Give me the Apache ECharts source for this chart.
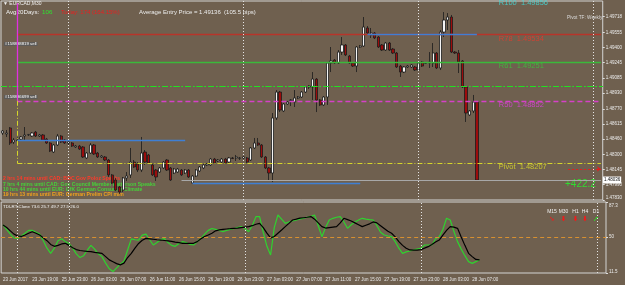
<!DOCTYPE html>
<html><head><meta charset="utf-8">
<script src="https://cdn.jsdelivr.net/npm/echarts@6/dist/echarts.min.js"></script>
<style>html,body{margin:0;padding:0;background:#6f604f}#c{width:625px;height:285px}</style>
</head><body><div id="c"></div>
<script>
// EURCAD M30 candles: [open, close, low, high]
const candles = [
[1.48520,1.48541,1.48500,1.48551],[1.48510,1.48520,1.48479,1.48551],[1.48572,1.48417,1.48397,1.48582],[1.48427,1.48448,1.48407,1.48469],
[1.48438,1.48448,1.48397,1.48479],[1.48458,1.48479,1.48448,1.48489],[1.48489,1.48500,1.48448,1.48582],[1.48500,1.48505,1.48489,1.48510],
[1.48489,1.48520,1.48479,1.48530],[1.48530,1.48489,1.48479,1.48541],[1.48489,1.48500,1.48479,1.48510],[1.48500,1.48448,1.48438,1.48510],
[1.48458,1.48417,1.48407,1.48469],[1.48417,1.48335,1.48324,1.48427],[1.48324,1.48397,1.48314,1.48407],[1.48397,1.48489,1.48386,1.48510],
[1.48489,1.48427,1.48417,1.48500],[1.48448,1.48417,1.48407,1.48458],[1.48417,1.48427,1.48397,1.48438],[1.48417,1.48386,1.48376,1.48427],
[1.48376,1.48386,1.48366,1.48397],[1.48386,1.48355,1.48345,1.48397],[1.48376,1.48273,1.48263,1.48386],[1.48263,1.48314,1.48252,1.48324],
[1.48314,1.48397,1.48304,1.48417],[1.48397,1.48304,1.48294,1.48407],[1.48314,1.48273,1.48263,1.48324],[1.48273,1.48283,1.48263,1.48294],
[1.48273,1.48242,1.48232,1.48283],[1.48242,1.48088,1.48067,1.48252],[1.48088,1.48005,1.47995,1.48098],[1.48036,1.47933,1.47922,1.48057],
[1.47964,1.47912,1.47892,1.47974],[1.47933,1.48057,1.47912,1.48067],[1.48057,1.48077,1.48026,1.48118],[1.48088,1.48221,1.48057,1.48366],
[1.48221,1.48170,1.48160,1.48242],[1.48201,1.48139,1.48118,1.48221],[1.48139,1.48314,1.48118,1.48479],[1.48324,1.48221,1.48191,1.48345],
[1.48294,1.48211,1.48201,1.48304],[1.48191,1.48088,1.48077,1.48211],[1.48139,1.48067,1.48026,1.48149],[1.48118,1.48160,1.48108,1.48170],
[1.48160,1.48221,1.48149,1.48232],[1.48242,1.48139,1.48129,1.48252],[1.48160,1.48036,1.48026,1.48170],[1.48108,1.48149,1.48098,1.48160],
[1.48118,1.48149,1.48108,1.48160],[1.48139,1.48088,1.48077,1.48149],[1.48108,1.48139,1.48098,1.48149],[1.48139,1.48067,1.48057,1.48149],
[1.48005,1.48077,1.47995,1.48088],[1.48077,1.48139,1.48067,1.48149],[1.48129,1.48170,1.48118,1.48180],[1.48160,1.48191,1.48149,1.48201],
[1.48191,1.48201,1.48180,1.48211],[1.48191,1.48252,1.48180,1.48263],[1.48252,1.48211,1.48201,1.48263],[1.48232,1.48242,1.48221,1.48252],
[1.48221,1.48252,1.48211,1.48263],[1.48252,1.48211,1.48201,1.48263],[1.48221,1.48263,1.48211,1.48273],[1.48263,1.48258,1.48252,1.48273],
[1.48263,1.48273,1.48232,1.48294],[1.48258,1.48263,1.48242,1.48273],[1.48263,1.48273,1.48252,1.48283],[1.48263,1.48221,1.48211,1.48273],
[1.48242,1.48366,1.48232,1.48376],[1.48366,1.48417,1.48355,1.48469],[1.48417,1.48397,1.48386,1.48469],[1.48397,1.48273,1.48263,1.48407],
[1.48273,1.48160,1.48149,1.48283],[1.48160,1.48108,1.48036,1.48170],[1.48108,1.48675,1.48015,1.48726],[1.48675,1.48942,1.48654,1.48963],
[1.48942,1.48757,1.48736,1.48953],[1.48747,1.48819,1.48736,1.48829],[1.48819,1.48839,1.48809,1.48850],[1.48855,1.48860,1.48798,1.48870],
[1.48839,1.48881,1.48788,1.48963],[1.48881,1.48891,1.48870,1.48901],[1.48891,1.48942,1.48881,1.48953],[1.48942,1.48994,1.48932,1.49004],
[1.48994,1.49004,1.48973,1.49014],[1.48994,1.49076,1.48860,1.49148],[1.49076,1.48860,1.48736,1.49086],[1.48860,1.48809,1.48798,1.48870],
[1.48809,1.48891,1.48798,1.48901],[1.48891,1.49241,1.48809,1.49251],[1.49241,1.49262,1.49148,1.49406],[1.49272,1.49241,1.49231,1.49282],
[1.49241,1.49354,1.49231,1.49375],[1.49354,1.49427,1.49324,1.49509],[1.49427,1.49324,1.49313,1.49437],[1.49313,1.49241,1.49231,1.49324],
[1.49241,1.49210,1.49200,1.49251],[1.49210,1.49406,1.49148,1.49416],[1.49406,1.49416,1.49396,1.49427],[1.49416,1.49612,1.49406,1.49715],
[1.49602,1.49550,1.49530,1.49622],[1.49530,1.49550,1.49499,1.49602],[1.49550,1.49499,1.49488,1.49560],[1.49509,1.49406,1.49396,1.49519],
[1.49427,1.49375,1.49365,1.49437],[1.49375,1.49447,1.49365,1.49458],[1.49447,1.49375,1.49365,1.49458],[1.49385,1.49344,1.49334,1.49396],
[1.49344,1.49200,1.49190,1.49354],[1.49210,1.49148,1.49097,1.49221],[1.49148,1.49200,1.49138,1.49210],[1.49200,1.49210,1.49190,1.49221],
[1.49200,1.49221,1.49190,1.49231],[1.49200,1.49169,1.49159,1.49210],[1.49169,1.49241,1.49159,1.49251],[1.49251,1.49210,1.49200,1.49262],
[1.49236,1.49241,1.49231,1.49251],[1.49241,1.49251,1.49190,1.49354],[1.49241,1.49344,1.49200,1.49447],[1.49344,1.49190,1.49179,1.49354],
[1.49190,1.49560,1.49169,1.49581],[1.49560,1.49684,1.49509,1.49766],[1.49684,1.49715,1.49581,1.49756],[1.49715,1.49354,1.49344,1.49736],
[1.49354,1.49344,1.49334,1.49365],[1.49344,1.49251,1.49138,1.49375],[1.49262,1.48994,1.48984,1.49272],[1.48994,1.48726,1.48634,1.49004],
[1.48706,1.48747,1.48695,1.48757],[1.48747,1.48839,1.48726,1.48912],[1.48839,1.48036,1.48026,1.48850]
];
// TDI indicator lines
const tdiGreen = [62.8,58,53,49,48.5,51,54,57,57,55,53,46,38,32.5,38,46,48,45,43,38,32,28,30,36,41,37,32,29,22,16,
13,17,21,24,36,48,47,46.7,52,53,47,41.4,44,47,48.5,44,41,40,43,45,44,42,41.4,45,48.5,53,57,59,58,57,
55.6,57,58,59,60,61,59,55.6,62,71.7,71.7,55,40,30.7,60,73.4,69,64.5,66,67,68.1,69,70,71,72,73.4,62,50.3,60,68,
69.9,71,71.7,66,59.2,63,66,68,69.9,69,68.5,68.1,62,55,52.1,51,50.3,45,38,32.5,34,35,36.1,37,37.8,41.4,41.4,41.4,48,50.3,
58,69.9,68.1,56,45,37,30,23.6,21.8,23.6,25.7];
const tdiBlack = [62.8,60,56.5,53,51,50.5,52,54,55.6,54,52.1,49,46,42,40,41,42.5,43.2,41,38.5,36.5,35.5,35,34.5,34.3,33.5,33,32.5,29,25.5,
23.6,21.5,20.2,22,28,32.5,38,43,46.5,48.5,48,47.5,47,46.7,46.2,45.7,45.2,44.5,44,43.2,43.2,43.2,43.2,45,48,50.5,52.1,54,56.5,57.5,
58,58.5,58.8,59.2,59.5,60,60.5,61,62,63.5,64.5,60,54,49,50.5,54,57.4,61,64.5,68.1,69,70,70.5,71,71.7,69,65,61,59.5,60,
60.5,61,65,69.9,68.5,67,65,63,61,62.5,64,66,65,62,59,56,53.9,50,45,41,38,36.1,36,36,36.5,38,39.6,42,44.5,46.7,
52,57,61,60.5,59.2,50,41,32.5,29,26,25.5];
const slotCount = 165;
const tickLabels = ['23 Jun 2017','23 Jun 19:00','25 Jun 23:00','26 Jun 03:00','26 Jun 07:00','26 Jun 11:00','26 Jun 15:00','26 Jun 19:00','26 Jun 23:00','27 Jun 03:00','27 Jun 07:00','27 Jun 11:00','27 Jun 15:00','27 Jun 19:00','27 Jun 23:00','28 Jun 03:00','28 Jun 07:00'];
const priceTicks = [1.47830,1.47990,1.48145,1.48300,1.48460,1.48615,1.48770,1.48930,1.49085,1.49245,1.49400,1.49555,1.49718];
const tdiTicks = [11.5, 50, 87.3];
const pivotNames = ['R100','R78','R61','R50','Pivot'];
const pivotValues = [1.49856,1.49534,1.49251,1.48852,1.48207];
const orderLevels = [1.49406,1.48860];
const orderNames = ['#158838819 sell','#158836699 sell'];
const daySeparators = [18,66,114,162];
const pivotStart = 4;
const blueSegments = [[4,50,1.48448],[52,98,1.48005],[100,130,1.49540]];
const greyStart = 49;
const alertLevel = [155,1.48149];
const events = [
 ['2 hrs 14 mins until CAD: BOC Gov Poloz Speaks','#ff3a2a'],
 ['7 hrs 4 mins until CAD: Gov Council Member Patterson Speaks','#46d23a'],
 ['10 hrs 44 mins until EUR: GfK German Consumer Climate','#46d23a'],
 ['19 hrs 13 mins until EUR: German Prelim CPI m/m','#f0a21e']
];
const tdiTitle = 'TDI-RT-Clone 73.6 25.7 49.7 27.5 26.0';
const tfNames = ['M15','M30','H1','H4','D1'];
const tfArrows = ['➘','⬇','⬇','⬇','➚'];

const cats = Array.from({length: slotCount}, (_, i) => String(i));
const FF = '"Liberation Sans", Arial, sans-serif';
const last = slotCount - 1;
const lastClose = candles[candles.length - 1][1];
const pivotColors = ['#3fdede','#e83a2c','#3cc43c','#e23ee2','#dede2a'];
const pivotStyles = [
 {color:'#3fdede', width:1, type:'solid'},
 {color:'#b8342a', width:1.3, type:'solid'},
 {color:'#3bb83b', width:1.3, type:'solid'},
 {color:'#d640c8', width:1.3, type:[5,3]},
 {color:'#d6d62a', width:1, type:[5,2,1,2]}
];
const dot = {type:[1,2], color:'#e4e4e4', width:1};

const mainLines = [];
orderLevels.forEach(v => mainLines.push({yAxis: v, lineStyle:{color:'#22e022', width:1.2, type:[6,2,1.5,2]}}));
pivotValues.forEach((v, k) => {
  if (k === 0) return;
  mainLines.push([{coord:[pivotStart, v], lineStyle: pivotStyles[k]}, {coord:[last, v], lineStyle: pivotStyles[k]}]);
});
mainLines.push({yAxis: pivotValues[0], lineStyle:{color:'#ffa400', width:2, type:'solid'},
  label:{show:true, position:'end', formatter: pivotValues[0].toFixed(5), backgroundColor:'#ffa400', color:'#222', fontSize:4.5, fontFamily:FF, padding:[1,1], distance:1}});
blueSegments.forEach(s => mainLines.push([{coord:[s[0], s[2]], lineStyle:{color:'#3f7fd4', width:1.3, type:'solid'}}, {coord:[s[1], s[2]], lineStyle:{color:'#3f7fd4', width:1.3, type:'solid'}}]));
mainLines.push([{coord:[greyStart, lastClose], lineStyle:{color:'#a8a8a8', width:1, type:'solid'}}, {coord:[last, lastClose], lineStyle:{color:'#a8a8a8', width:1, type:'solid'},
  label:{show:true, position:'end', formatter: lastClose.toFixed(5), backgroundColor:'#ffffff', color:'#111', fontSize:4.5, fontFamily:FF, padding:[1,1], distance:2}}]);
mainLines.push([{coord:[alertLevel[0], alertLevel[1]], lineStyle:{color:'#e02020', width:1, type:[2,2]}, symbol:'none'}, {coord:[last, alertLevel[1]], lineStyle:{color:'#e02020', width:1, type:[2,2]}, symbol:'arrow', symbolSize:4}]);
mainLines.push([{coord:[pivotStart, pivotValues[0]], lineStyle:{color:'#e030e0', width:1.3, type:'solid'}}, {coord:[pivotStart, pivotValues[3]], lineStyle:{color:'#e030e0', width:1.3, type:'solid'}}]);
mainLines.push([{coord:[pivotStart, pivotValues[3]], lineStyle:{color:'#d6d62a', width:1, type:[5,2,1,2]}}, {coord:[pivotStart, pivotValues[4]], lineStyle:{color:'#d6d62a', width:1, type:[5,2,1,2]}}]);
daySeparators.forEach(i => mainLines.push({xAxis: i, lineStyle: dot}));

const tdiLines = [{yAxis: 50, lineStyle:{color:'#d89030', width:1, type:[4,3]}}];
[pivotStart].concat(daySeparators).forEach(i => tdiLines.push({xAxis: i, lineStyle: dot}));

const T = (text, x, y, fill, font, extra) => ({type:'text', silent:true, style: Object.assign({text, x, y, fill, font, verticalAlign:'middle'}, extra || {})});
const graphics = [
  T('▼ EURCAD,M30', 3, 4, '#f0f0f0', '5px ' + FF),
  T('Avg20Days:', 6, 12, '#f0f0f0', '6.2px ' + FF),
  T('106', 42, 12, '#30e030', '6.2px ' + FF),
  T('Today: 174 (164.15%)', 61, 12, '#e82020', '6px ' + FF),
  T('Average Entry Price = 1.49136  (105.5 pips)', 139, 12, '#ececec', '6px ' + FF),
  T('Pivot TF: Weekly', 567, 18, '#dcdcdc', '4.7px ' + FF),
  T('+422.2', 565, 184, '#30dc30', '10px ' + FF),
  T(tdiTitle, 3, 207, '#f2f2f2', '4.4px ' + FF)
];
orderLevels.forEach((v, k) => graphics.push(T(orderNames[k], 4, k === 0 ? 44 : 97, '#ffffff', '4.3px ' + FF, {backgroundColor:'rgba(90,90,90,0.85)', padding:[0,1]})));
events.forEach((e, k) => graphics.push(T(e[0], 3, 179 + k * 5.3, e[1], 'bold 5.1px ' + FF)));
const tfX = [552, 563.5, 575.5, 585, 596];
tfNames.forEach((n, k) => {
  graphics.push(T(n, tfX[k], 212, '#f0f0f0', '5px ' + FF, {align:'center'}));
  graphics.push(T(tfArrows[k], tfX[k], 219.5, k === 4 ? '#22ee22' : '#ee1c1c', 'bold 7px "DejaVu Sans"', {align:'center'}));
});

const edgeRich = {t:{padding:[7,0,0,0]}, b:{padding:[0,0,5,0]}};
const chart = echarts.init(document.getElementById('c'), null, {renderer:'canvas'});
chart.setOption({
  backgroundColor:'#6f604f',
  animation:false,
  grid:[
    {left:1, right:19, top:1, height:199, show:true, borderColor:'#d4d4d4', borderWidth:1},
    {left:1, right:19, top:202, height:71, show:true, borderColor:'#d4d4d4', borderWidth:1}
  ],
  xAxis:[
    {type:'category', gridIndex:0, data:cats, boundaryGap:true, axisLine:{show:false}, axisTick:{show:false}, axisLabel:{show:false}, splitLine:{show:false}},
    {type:'category', gridIndex:1, data:cats, boundaryGap:true, axisLine:{show:false}, axisTick:{show:false}, splitLine:{show:false},
      axisLabel:{interval:(i) => i % 8 === 0 && i / 8 < tickLabels.length, formatter:(v, i) => tickLabels[Math.round(i / 8)] || '',
        align:'left', color:'#e8e8e8', fontSize:4.5, fontFamily:FF, margin:4}}
  ],
  yAxis:[
    {type:'value', gridIndex:0, position:'right', min:1.47830, max:1.49880, splitLine:{show:false}, axisLine:{show:false},
      axisTick:{show:true, customValues:priceTicks, length:2, lineStyle:{color:'#dddddd'}},
      axisLabel:{customValues:priceTicks, formatter:(v) => v === priceTicks[0] ? '{b|' + v.toFixed(5) + '}' : v.toFixed(5),
        rich:{b:{padding:[0,0,5,0], fontSize:4.5, color:'#ececec', fontFamily:FF}}, color:'#ececec', fontSize:4.5, fontFamily:FF, margin:3}},
    {type:'value', gridIndex:1, position:'right', min:11.5, max:87.3, splitLine:{show:false}, axisLine:{show:false},
      axisTick:{show:true, customValues:tdiTicks, length:2, lineStyle:{color:'#dddddd'}},
      axisLabel:{customValues:tdiTicks, formatter:(v) => v === 87.3 ? '{t|87.3}' : (v === 11.5 ? '{b|11.5}' : String(v)),
        rich:{t:{padding:[7,0,0,0], fontSize:4.5, color:'#ececec', fontFamily:FF}, b:{padding:[0,0,3,0], fontSize:4.5, color:'#ececec', fontFamily:FF}},
        color:'#ececec', fontSize:4.5, fontFamily:FF, margin:3}}
  ],
  series:[
    {type:'candlestick', xAxisIndex:0, yAxisIndex:0, data:candles, barWidth:2.7,
      itemStyle:{color:'#f4f4f4', color0:'#9c0c0c', borderColor:'#1c1c1c', borderColor0:'#1c1c1c', borderWidth:0.8},
      markLine:{silent:true, symbol:['none','none'], label:{show:false}, animation:false, data: mainLines}},
    {type:'scatter', xAxisIndex:0, yAxisIndex:0, symbolSize:0, silent:true,
      data: pivotValues.map((v, k) => ({value:[136, v], label:{show:true, position:'right', distance:0, offset:[0, k === 0 ? 0 : 4],
        formatter: pivotNames[k] + '  ' + v.toFixed(5), color: pivotColors[k], fontSize:7.5, fontFamily:FF}}))},
    {type:'line', xAxisIndex:1, yAxisIndex:1, data:tdiGreen, showSymbol:false, silent:true, lineStyle:{color:'#2fd22f', width:1.2},
      markLine:{silent:true, symbol:['none','none'], label:{show:false}, animation:false, data: tdiLines}},
    {type:'line', xAxisIndex:1, yAxisIndex:1, data:tdiBlack, showSymbol:false, silent:true, lineStyle:{color:'#000000', width:1.2}}
  ],
  graphic: graphics
});
</script>
</body></html>
